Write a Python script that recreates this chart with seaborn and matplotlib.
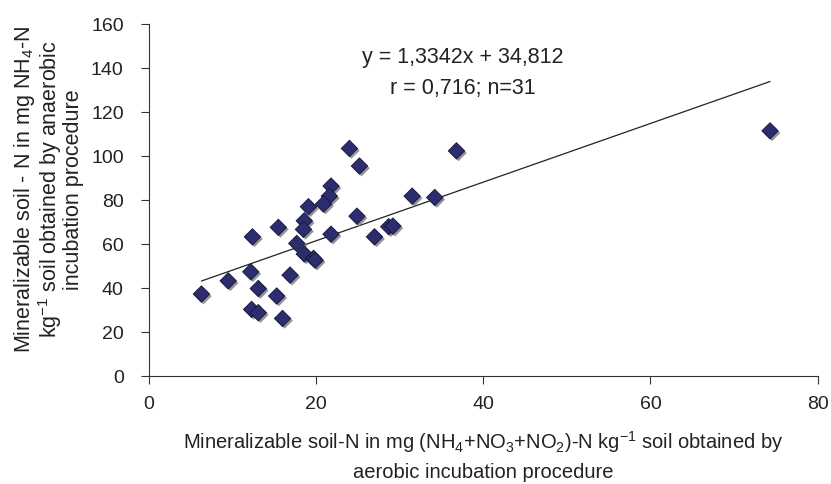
import numpy as np
import pandas as pd
import matplotlib
matplotlib.use("Agg")
import matplotlib.pyplot as plt
import matplotlib.patheffects as pe
import seaborn as sns

# Data
aerobic_n = [24.0, 25.2, 36.8, 21.8, 21.6, 20.9, 19.1, 18.6, 18.5, 15.5, 12.4,
             24.9, 31.5, 34.2, 28.7, 29.2, 27.0, 21.8, 17.7, 18.6, 19.7, 19.9,
             16.9, 12.2, 9.5, 13.1, 15.3, 6.3, 12.3, 13.1, 16.0, 74.3]
anaerobic_n = [103.5, 95.5, 102.4, 86.4, 81.8, 78.2, 77.0, 70.6, 66.7, 67.6, 63.3,
               72.7, 81.8, 81.2, 67.9, 68.2, 63.3, 64.5, 60.3, 55.5, 53.5, 52.7,
               45.9, 47.4, 43.3, 39.8, 36.4, 37.3, 30.3, 28.8, 26.2, 111.5]
slope = 1.3342
intercept = 34.812
eq_text = "y = 1,3342x + 34,812"
r_text = "r = 0,716; n=31"
x_ticks = [0, 20, 40, 60, 80]
y_ticks = [0, 20, 40, 60, 80, 100, 120, 140, 160]

df = pd.DataFrame({"aerobic": aerobic_n, "anaerobic": anaerobic_n})

sns.set_style("ticks")
plt.rcParams["font.family"] = ["Liberation Sans", "DejaVu Sans"]
plt.rcParams["mathtext.fontset"] = "custom"
plt.rcParams["mathtext.rm"] = "Liberation Sans"
plt.rcParams["mathtext.it"] = "Liberation Sans:italic"

fig = plt.figure(figsize=(8.31, 4.84), dpi=100)
ax = fig.add_axes([0.179, 0.223, 0.805, 0.727])

# regression line
xs = np.array([min(aerobic_n), max(aerobic_n)])
ax.plot(xs, slope * xs + intercept, color="#222222", lw=0.9, zorder=2)

sns.scatterplot(data=df, x="aerobic", y="anaerobic", ax=ax, marker="D", s=70,
                color="#2B2D6E", edgecolor="#15153a", linewidth=0.6, zorder=3,
                legend=False)
for coll in ax.collections:
    coll.set_path_effects([pe.SimplePatchShadow(offset=(1.5, -1.5), shadow_rgbFace="#888888", alpha=0.9),
                           pe.Normal()])

ax.set_xlim(0, 80)
ax.set_ylim(0, 160)
ax.set_xticks(x_ticks)
ax.set_yticks(y_ticks)
ax.tick_params(axis="both", labelsize=14, length=6, width=0.8, color="#333333",
               labelcolor="#222222")
ax.tick_params(axis="y", pad=12)
ax.tick_params(axis="x", pad=8)
sns.despine(ax=ax)
for s in ["left", "bottom"]:
    ax.spines[s].set_color("#333333")
    ax.spines[s].set_linewidth(0.8)

ax.set_xlabel("Mineralizable soil-N in mg (NH$_4$+NO$_3$+NO$_2$)-N kg$^{-1}$ soil obtained by\naerobic incubation procedure",
              fontsize=14.5, linespacing=1.5, labelpad=12, color="#222222")
ax.set_ylabel("Mineralizable soil - N in mg NH$_4$-N\nkg$^{-1}$ soil obtained by anaerobic\nincubation procedure",
              fontsize=15.5, linespacing=0.95, color="#222222")
ax.yaxis.set_label_coords(-0.097, 0.531)

ax.text(0.469, 0.906, eq_text, transform=ax.transAxes, ha="center", va="center",
        fontsize=15.5, color="#222222")
ax.text(0.469, 0.818, r_text, transform=ax.transAxes, ha="center", va="center",
        fontsize=15.5, color="#222222")

fig.savefig("out.png", dpi=100)
